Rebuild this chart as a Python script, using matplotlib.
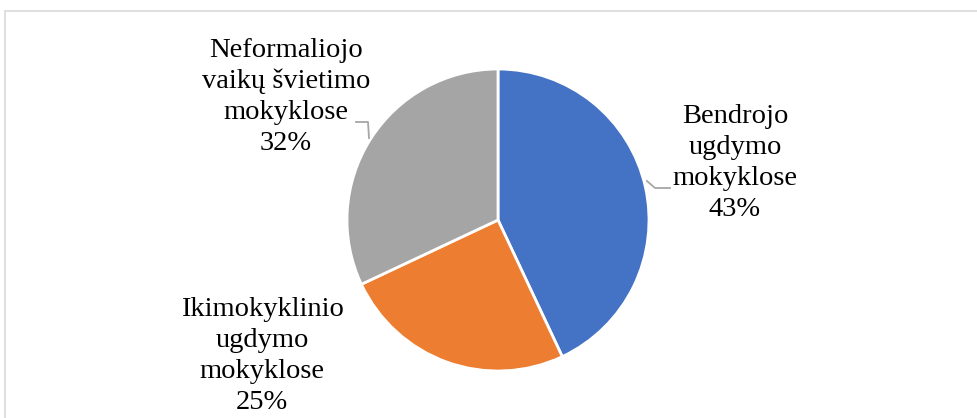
import matplotlib
matplotlib.use("Agg")
import matplotlib.pyplot as plt
from matplotlib.patches import Rectangle

categories = ["Bendrojo\nugdymo\nmokyklose", "Ikimokyklinio\nugdymo\nmokyklose", "Neformaliojo\nvaikų švietimo\nmokyklose"]
values = [43, 25, 32]
colors = ["#4472C4", "#ED7D31", "#A5A5A5"]

W, H = 977, 418
fig = plt.figure(figsize=(W / 100, H / 100), dpi=100)
ax = fig.add_axes([0, 0, 1, 1])

cx, cy, r = 498, H - 220, 151
ax.pie(values, colors=colors, startangle=90, counterclock=False,
       center=(cx, cy), radius=r, frame=True,
       wedgeprops=dict(edgecolor="white", linewidth=2))
ax.set_xlim(0, W)
ax.set_ylim(0, H)
ax.set_aspect("equal")
ax.axis("off")

# chart border
ax.add_patch(Rectangle((4.5, -10), W, H - 10.5 + 10, fill=False,
                       edgecolor="#D9D9D9", linewidth=1.2, clip_on=False))

font = dict(family=["Liberation Serif", "DejaVu Serif"], fontsize=20.5, color="black")
label_pos = [(735, H - 163), (262, H - 356), (286, H - 97)]
for name, v, (x, y) in zip(categories, values, label_pos):
    ax.text(x, y, f"{name}\n{v}%", ha="center", va="center",
            linespacing=1.31, **font)

# leader lines
lc = "#A6A6A6"
ax.plot([647, 655, 670], [H - 181, H - 188, H - 188], color=lc, lw=1.3)
ax.plot([356, 368, 369], [H - 122, H - 122, H - 138], color=lc, lw=1.3)

fig.savefig("out.png", dpi=100)
